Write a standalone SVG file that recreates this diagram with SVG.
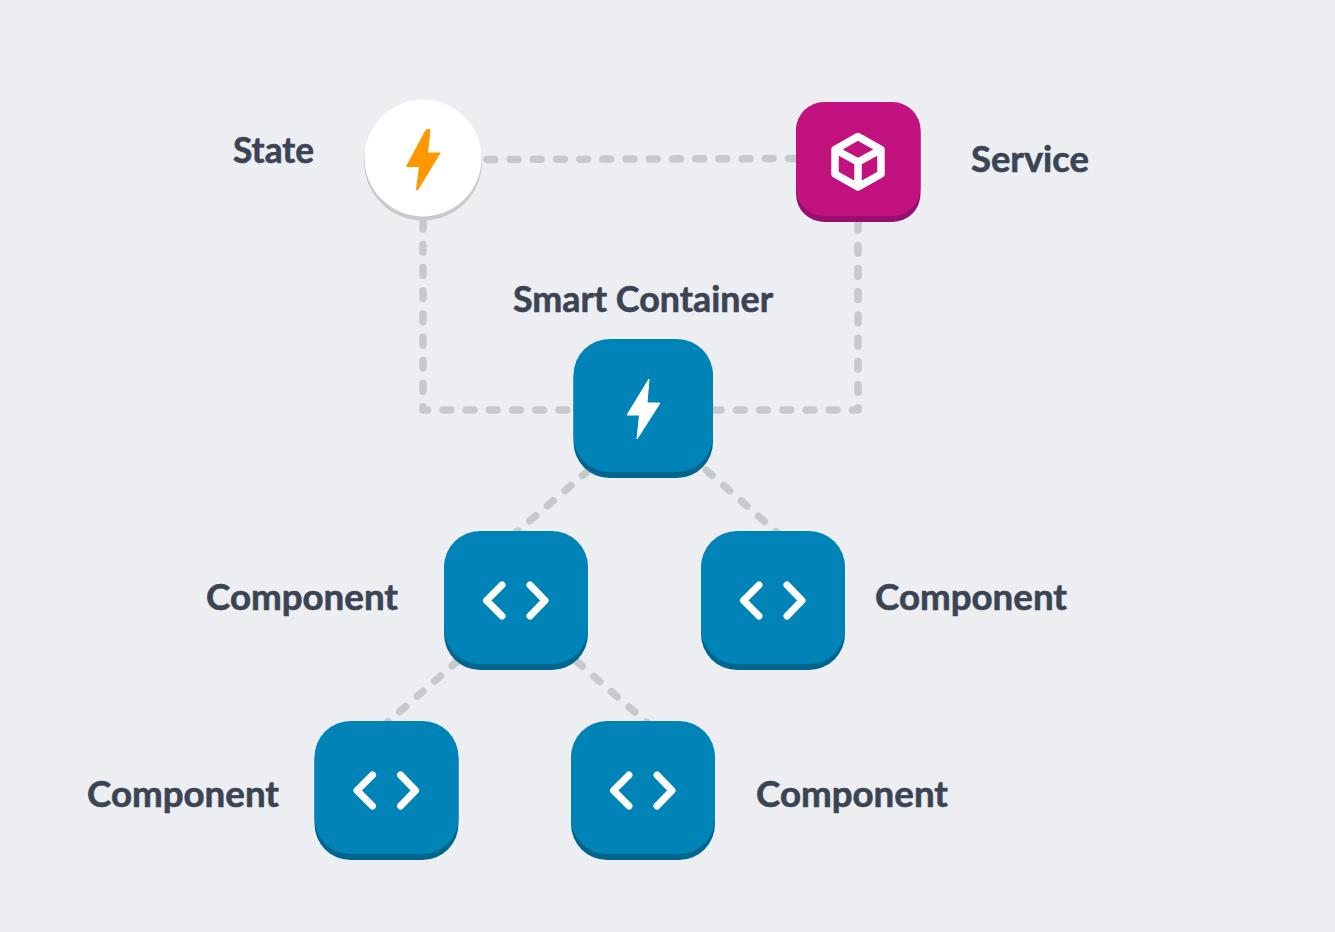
<svg xmlns="http://www.w3.org/2000/svg" width="1335" height="932" viewBox="0 0 1335 932">
<style>
.lbl{font-family:"Lato","Liberation Sans",sans-serif;font-weight:700;font-size:36px;fill:#3b4453;stroke:#3b4453;stroke-width:.6}
.conn{fill:none;stroke:#c6cacf;stroke-width:7.5;stroke-linecap:round;stroke-linejoin:round;stroke-dasharray:7.7 15.5}
.blue{fill:#0084b8}.blued{fill:#00658f}
.code{fill:none;stroke:#fff;stroke-width:7;stroke-linecap:round;stroke-linejoin:round}
</style>
<defs>
<g id="comp">
<rect x="0" y="3" width="144" height="136" rx="36" class="blued"/>
<rect x="0" y="0" width="144" height="133" rx="36" class="blue"/>
<path d="M58 54L42.500 69.500 58 85M86 54L101 69.500 86 85" class="code"/>
</g>
</defs>
<rect width="1335" height="932" fill="#eceef2"/>
<g id="connectors">
<path d="M487 159.500L796 158.500" class="conn"/>
<path d="M423 221.200V410H570" class="conn"/>
<path d="M713.300 410H858V218" class="conn"/>
<path d="M588.500 470.500L512 536" class="conn"/>
<path d="M706.400 470.200L782 537" class="conn"/>
<path d="M458 660.700L382 727" class="conn"/>
<path d="M576.400 661.200L652 727" class="conn"/>
</g>
<g id="state">
<circle cx="423" cy="161.500" r="59" fill="#c9c9c9"/>
<circle cx="423" cy="158" r="58.500" fill="#fff"/>
<path d="M426 130L430 129.500 427.500 153H440L418 189.500H416.500L419.500 166.500H406.500Z" fill="#ff9800" stroke="#ff9800" stroke-width="1" stroke-linejoin="round"/>
<text x="233" y="163" class="lbl" textLength="81" lengthAdjust="spacingAndGlyphs">State</text>
</g>
<g id="service">
<rect x="796" y="105" width="124.500" height="117" rx="28" fill="#980f6f"/>
<rect x="796" y="102" width="124.500" height="114" rx="28" fill="#c2127f"/>
<path d="M858 136.500L881 149.500V174L858 187 835 174V149.500ZM835 149.500L858 162 881 149.500M858 162V187" fill="none" stroke="#fff" stroke-width="7.500" stroke-linejoin="round"/>
<text x="971" y="172" class="lbl" textLength="118" lengthAdjust="spacingAndGlyphs">Service</text>
</g>
<g id="smart-container">
<rect x="573.500" y="342" width="139.500" height="136" rx="36" class="blued"/>
<rect x="573.500" y="339" width="139.500" height="133" rx="36" class="blue"/>
<path d="M649 379L627 415H639.500L637 439 660 403H647Z" fill="#fff" stroke="#fff" stroke-width="1" stroke-linejoin="round"/>
<text x="513" y="312" class="lbl" textLength="260" lengthAdjust="spacingAndGlyphs">Smart Container</text>
</g>
<g id="component-left">
<use href="#comp" x="444" y="531"/>
<text x="206" y="610" class="lbl" textLength="192" lengthAdjust="spacingAndGlyphs">Component</text>
</g>
<g id="component-right">
<use href="#comp" x="701" y="531"/>
<text x="875" y="610" class="lbl" textLength="192" lengthAdjust="spacingAndGlyphs">Component</text>
</g>
<g id="component-bottom-left">
<use href="#comp" x="314.500" y="721"/>
<text x="87" y="807" class="lbl" textLength="192" lengthAdjust="spacingAndGlyphs">Component</text>
</g>
<g id="component-bottom-right">
<use href="#comp" x="571" y="721"/>
<text x="756" y="807" class="lbl" textLength="192" lengthAdjust="spacingAndGlyphs">Component</text>
</g>
</svg>
